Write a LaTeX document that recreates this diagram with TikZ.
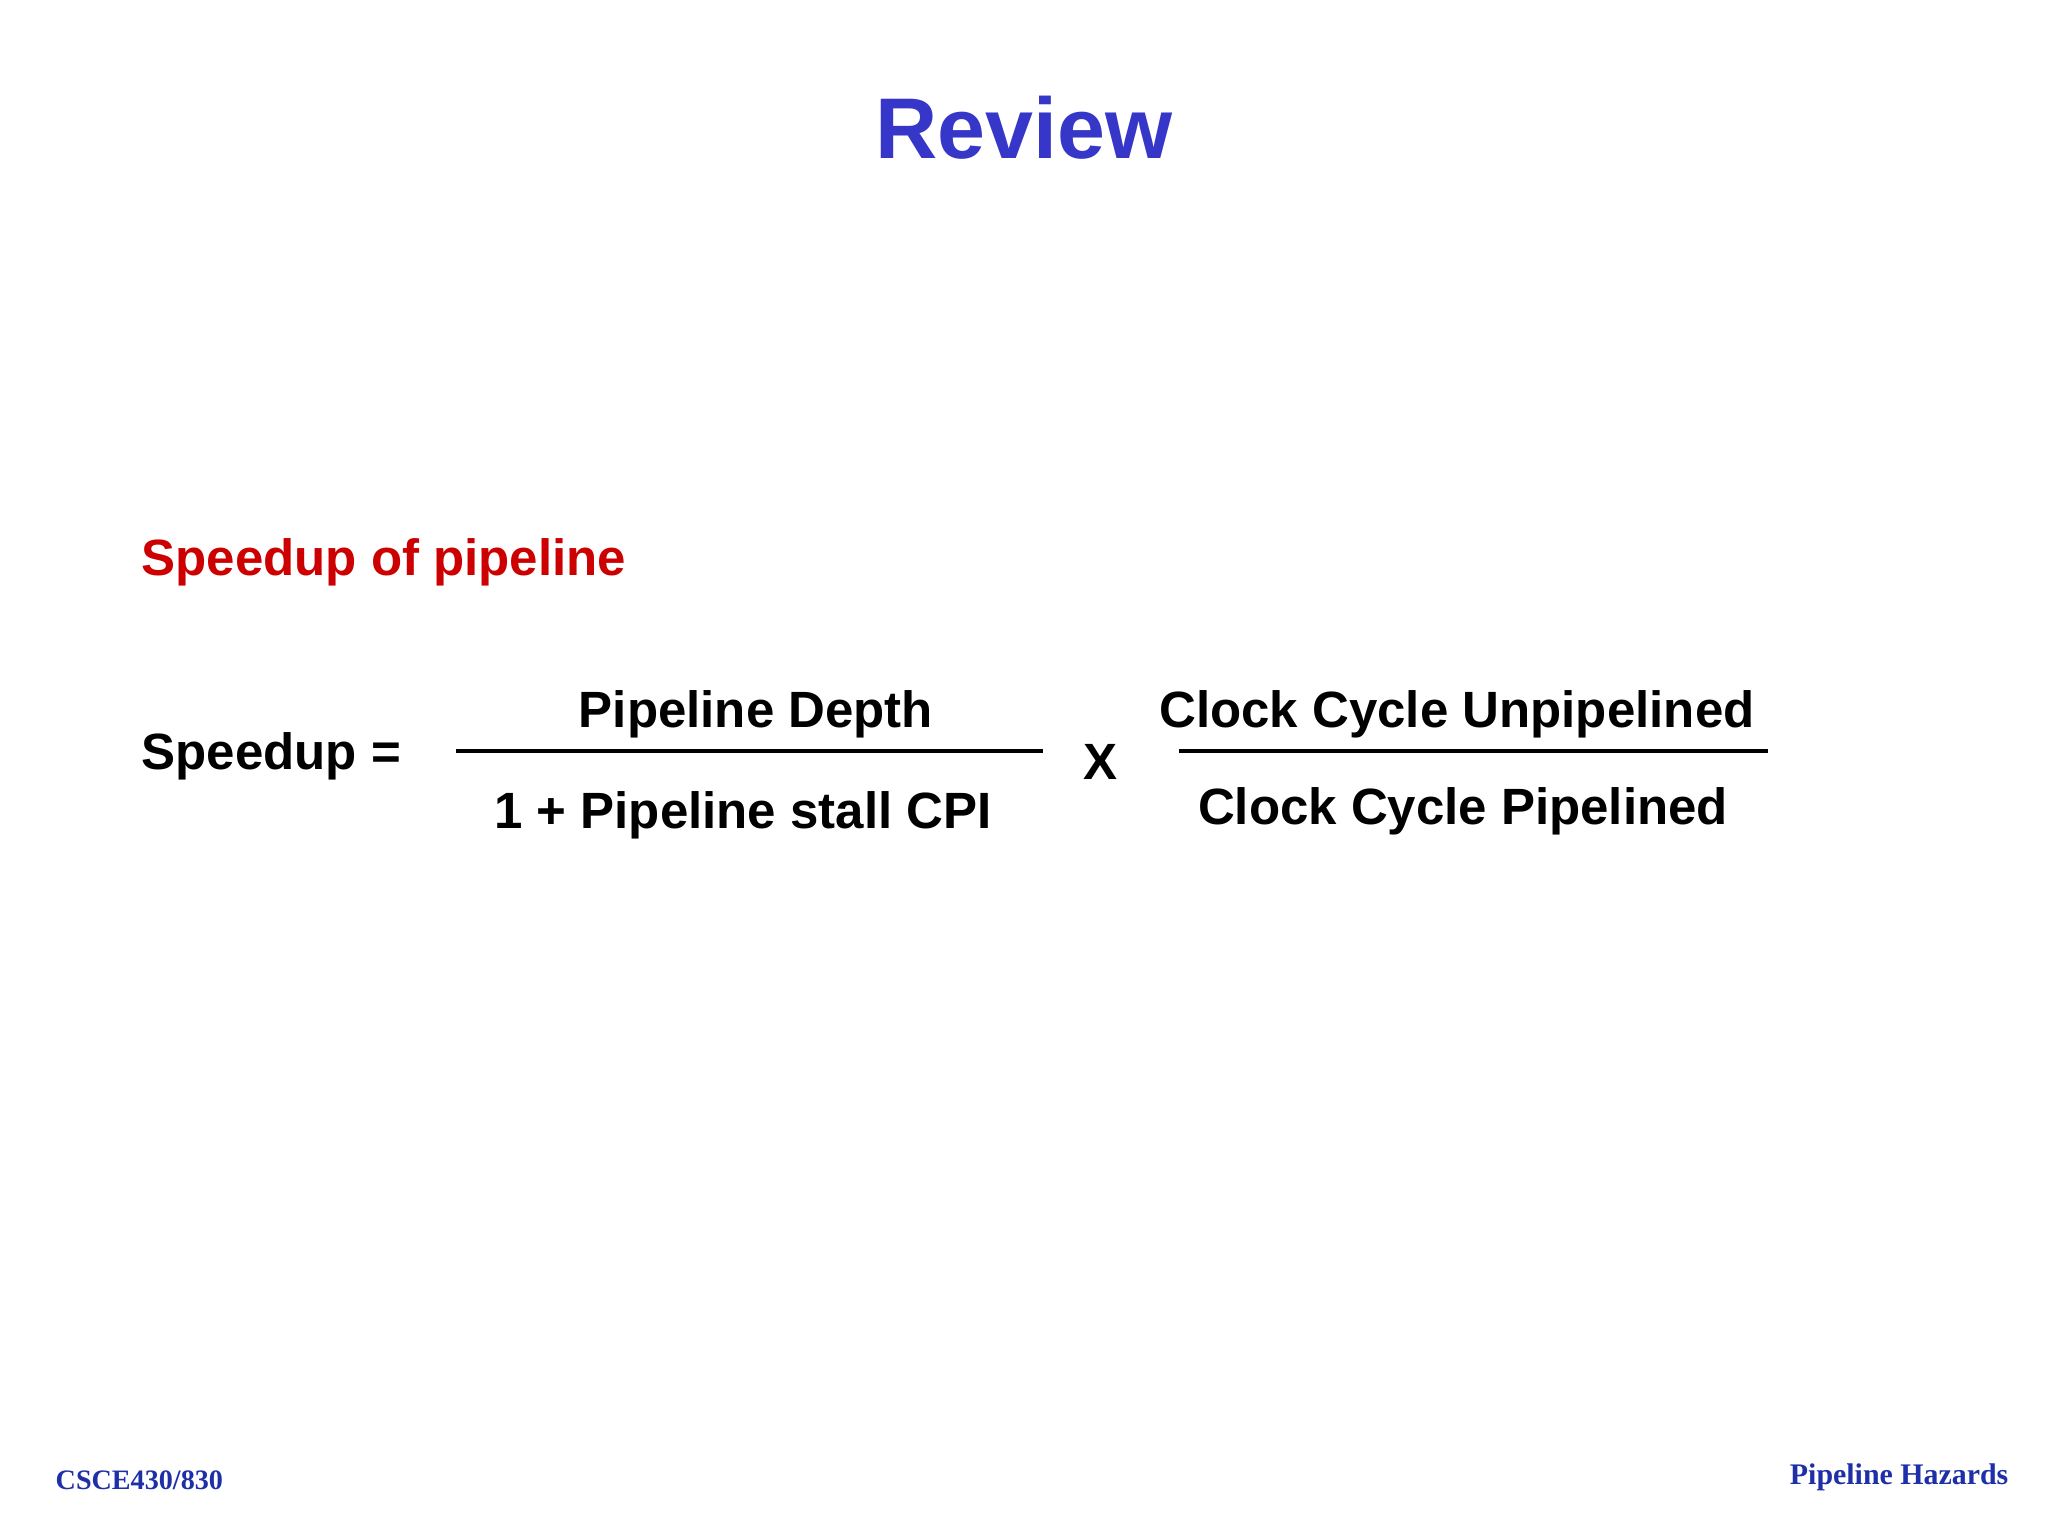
\documentclass[tikz,border=0pt]{standalone}
\usepackage{fontspec}
\setmainfont{Liberation Sans}
\newfontfamily\serifb{Liberation Serif}
\definecolor{titleblue}{HTML}{3636C8}
\definecolor{footblue}{HTML}{1F2FA8}
\definecolor{redtxt}{HTML}{CC0000}
\begin{document}
\begin{tikzpicture}[x=0.01cm,y=-0.01cm,
  eq/.style={font=\fontsize{14.5}{16}\selectfont\bfseries,inner sep=0},
  foot/.style={font=\fontsize{8}{9}\selectfont\serifb\bfseries,text=footblue,inner sep=0}]
\fill[white] (0,0) rectangle (2048,1536);
\useasboundingbox (0,0) rectangle (2048,1536);
\node[inner sep=0,text=titleblue,font=\fontsize{24.5}{28}\selectfont\bfseries] (title) at (1024,128) {Review};
\node[inner sep=0,anchor=west,text=redtxt,font=\fontsize{14.5}{16}\selectfont\bfseries] (sub) at (141,562) {Speedup of pipeline};
\node[eq,anchor=west] (sp) at (141,756) {Speedup =};
\node[eq] (n1) at (756,714) {Pipeline Depth};
\node[eq] (d1) at (743,815) {1 + Pipeline stall CPI};
\node[eq] (x) at (1100,762) {X};
\node[eq] (n2) at (1457,714) {Clock Cycle Unpipelined};
\node[eq] (d2) at (1463,811) {Clock Cycle Pipelined};
\coordinate (a1) at (456,751); \coordinate (b1) at (1043,751);
\coordinate (a2) at (1179,751); \coordinate (b2) at (1768,751);
\draw[line width=1.3pt] (a1) -- (b1);
\draw[line width=1.3pt] (a2) -- (b2);
\node[foot,anchor=west] (fl) at (55,1480) {CSCE430/830};
\node[foot,anchor=east,font=\fontsize{8.5}{9}\selectfont\serifb\bfseries] (fr) at (2009,1477) {Pipeline Hazards};
\end{tikzpicture}
\end{document}
